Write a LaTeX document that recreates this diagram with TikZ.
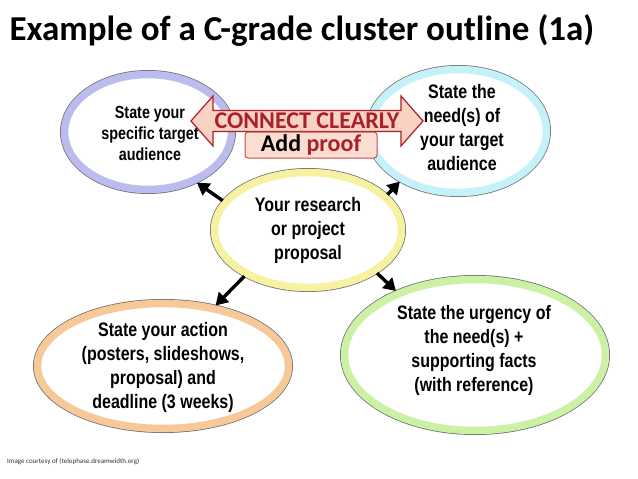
\documentclass[tikz,border=0pt]{standalone}
\usepackage{fontspec}
\setmainfont{Carlito}
\newfontfamily\narrowfont[FakeStretch=0.82]{Liberation Sans Bold}
\usetikzlibrary{arrows.meta,shapes.geometric}

\definecolor{ringedge}{HTML}{6E6E6E}
\definecolor{ringpurple}{HTML}{BBBBEE}
\definecolor{ringcyan}{HTML}{C4F2F8}
\definecolor{ringyellow}{HTML}{F6F2A2}
\definecolor{ringorange}{HTML}{F7C898}
\definecolor{ringgreen}{HTML}{CCF0A4}
\definecolor{connectred}{HTML}{A8202A}
\definecolor{connectfill}{HTML}{F9D2C4}
\definecolor{proofedge}{HTML}{C0504D}
\definecolor{prooffill}{HTML}{FBDDD2}

\begin{document}
\begin{tikzpicture}[x=1pt,y=-1pt,
	ring/.style={ellipse, fill=white, draw=#1, line width=7.5pt,
		preaction={draw=ringedge, line width=9pt}, inner sep=0pt},
	ringtext/.style={align=center, font=\narrowfont\fontsize{19.5}{24}\selectfont},
	spoke/.style={line width=3.4pt, -{Triangle[length=12pt,width=14pt]}}]
	\useasboundingbox (0,0) rectangle (638,479);
	
	% Title
	\node[anchor=base west, font=\bfseries\fontsize{35}{35}\selectfont] (title) at (6,41)
		{Example of a C-grade cluster outline (1a)};
	
	% Cluster rings
	\node[ring=ringpurple, minimum width=167, minimum height=115] (aud) at (148,132) {};
	\node[ring=ringcyan, minimum width=177, minimum height=123] (need) at (458,131) {};
	\node[ring=ringyellow, minimum width=187, minimum height=115] (hub) at (308,230) {};
	\node[ring=ringorange, minimum width=251, minimum height=125] (act) at (163,366) {};
	\node[ring=ringgreen, minimum width=261, minimum height=151] (urg) at (475,355) {};
	
	% Ring texts
	\node[ringtext, font=\narrowfont\fontsize{17.5}{21}\selectfont] (aud-t) at (150,133)
		{State your\\specific target\\audience};
	\node[ringtext] (need-t) at (462,128) {State the\\need(s) of\\your target\\audience};
	\node[ringtext] (hub-t) at (308,230) {Your research\\or project\\proposal};
	\node[ringtext] (act-t) at (163,367)
		{State your action\\(posters, slideshows,\\proposal) and\\deadline (3 weeks)};
	\node[ringtext] (urg-t) at (474,350)
		{State the urgency of\\the need(s) +\\supporting facts\\(with reference)};
	
	% Spokes
	\draw[spoke] (hub.161) -- (aud.-46);
	\draw[spoke] (hub.24) -- (need.-139);
	\draw[spoke] (hub.-144) -- (act.49);
	\draw[spoke] (hub.-32) -- (urg.141);
	
	% Connect arrow
	\filldraw[fill=connectfill, draw=connectred, line width=1.2pt, line join=miter]
		(191,121) -- (213,96) -- (213,110.5) -- (401,110.5) -- (401,96) -- (423,121)
		-- (401,146) -- (401,131.5) -- (213,131.5) -- (213,146) -- cycle;
	\node[draw=proofedge, fill=prooffill, line width=1pt, rounded corners=3pt,
		minimum width=132, minimum height=26, inner sep=0pt,
		font=\bfseries\fontsize{24}{24}\selectfont] (proof) at (311,145)
		{Add \textcolor{connectred}{proof}};
	\node[text=connectred, inner sep=0pt, font=\bfseries\fontsize{24}{24}\selectfont]
		(connect) at (307,120.5) {CONNECT CLEARLY};
	
	% Credit
	\node[anchor=base west, text=black!80, inner sep=0pt, font=\fontsize{7}{7}\selectfont]
		(credit) at (7,463) {Image courtesy of (telophase.dreamwidth.org)};
\end{tikzpicture}
\end{document}
